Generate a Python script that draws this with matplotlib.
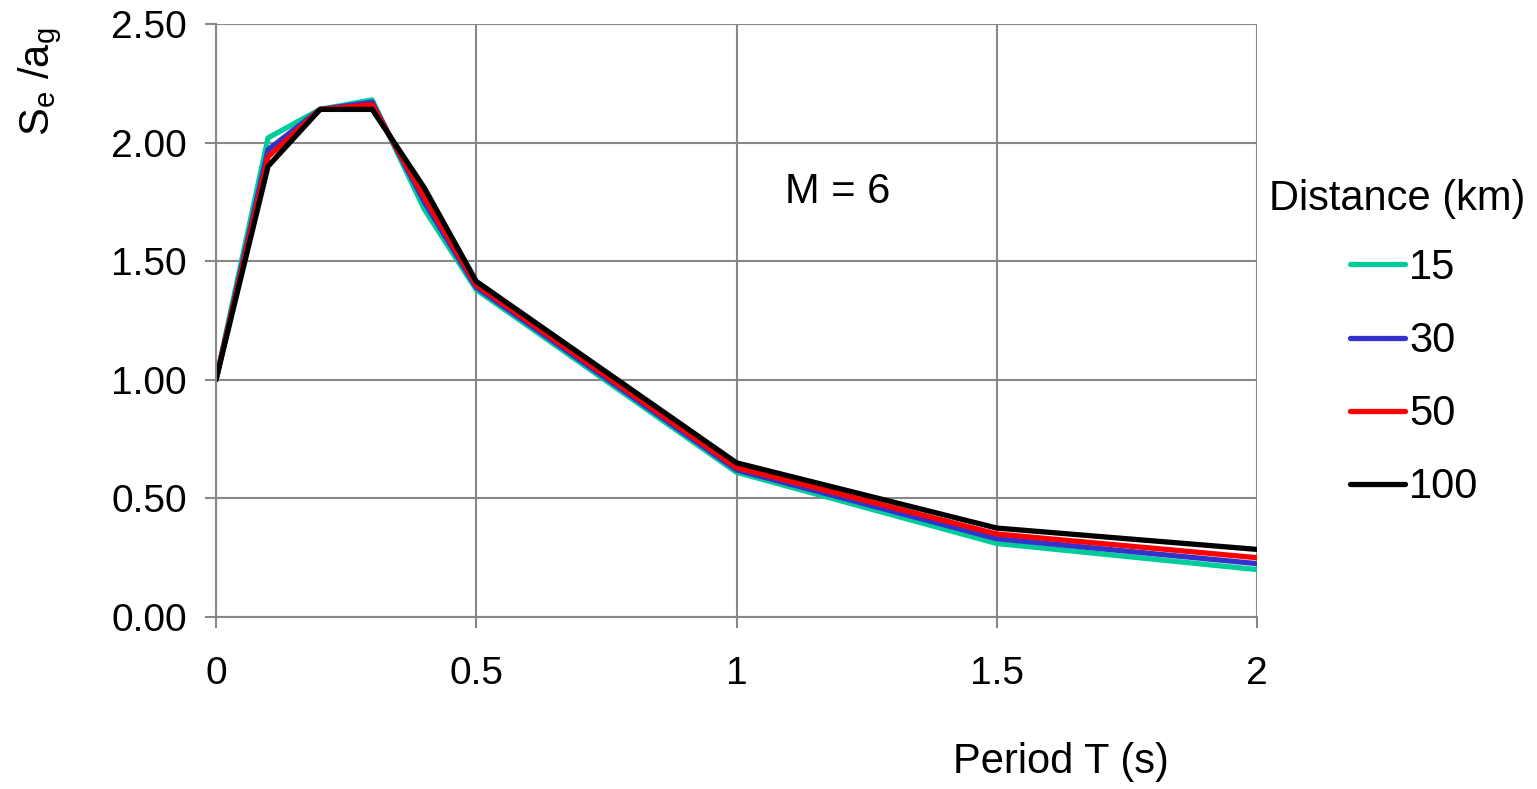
import matplotlib
matplotlib.use('Agg')
import matplotlib.pyplot as plt

# spectral ordinates Se/ag vs period, M = 6
periods = [0, 0.1, 0.2, 0.3, 0.4, 0.5, 1.0, 1.5, 2.0]
se_15 = [1.00, 2.02, 2.14, 2.18, 1.72, 1.38, 0.61, 0.31, 0.20]
se_30 = [1.00, 1.97, 2.14, 2.17, 1.75, 1.39, 0.62, 0.33, 0.225]
se_50 = [1.00, 1.94, 2.14, 2.16, 1.77, 1.40, 0.63, 0.35, 0.25]
se_100 = [1.00, 1.90, 2.14, 2.14, 1.81, 1.415, 0.65, 0.375, 0.285]
distances = ['15', '30', '50', '100']
colors = ['#00CC99', '#3333CC', '#FF0000', '#000000']

plt.rcParams['font.family'] = ['Liberation Sans', 'DejaVu Sans']
plt.rcParams['mathtext.fontset'] = 'custom'
plt.rcParams['mathtext.rm'] = 'Liberation Sans'

fig = plt.figure(figsize=(15.37, 7.89), dpi=100)
ax = fig.add_axes([216 / 1537, 1 - 617 / 789, (1257 - 216) / 1537, (617 - 24) / 789])

for vals, lab, c in zip([se_15, se_30, se_50, se_100], distances, colors):
    ax.plot(periods, vals, color=c, lw=3.8, label=lab, solid_capstyle='round')

ax.set_xlim(0, 2)
ax.set_ylim(0, 2.5)
ax.set_xticks([0, 0.5, 1, 1.5, 2])
ax.set_xticklabels(['0', '0.5', '1', '1.5', '2'])
ax.set_yticks([0, 0.5, 1, 1.5, 2, 2.5])
ax.set_yticklabels(['%.2f' % v for v in [0, 0.5, 1, 1.5, 2, 2.5]])
ax.grid(True, color='#888888', lw=1.5)
ax.set_axisbelow(True)
for s in ['top', 'right']:
    ax.spines[s].set_visible(False)
for s in ['left', 'bottom']:
    ax.spines[s].set_color('#888888')
    ax.spines[s].set_linewidth(1.5)
ax.tick_params(axis='both', colors='#888888', width=1.5, length=8, labelcolor='black', labelsize=28)
ax.tick_params(axis='x', pad=20)
ax.tick_params(axis='y', pad=13)

ax.text(1.195, 1.79, 'M = 6', fontsize=30, ha='center', va='center')

fig.text(40 / 1537, 1 - 82 / 789, r'S$_\mathregular{e}$ /a$_\mathregular{g}$', rotation=90,
         fontsize=30, ha='center', va='center')
fig.text(1061 / 1537, 1 - 762 / 789, 'Period T (s)', fontsize=30, ha='center', va='center')

# legend title drawn on its own so the entries can sit to the right
fig.text(1397 / 1537, 1 - 199 / 789, 'Distance (km)', fontsize=30, ha='center', va='center')
leg = fig.legend(loc='upper left', bbox_to_anchor=(1350 / 1537, 1 - 248 / 789),
                 frameon=False, fontsize=30, handlelength=1.32, borderaxespad=0,
                 handletextpad=0.1, labelspacing=0.795, borderpad=0)
for h in leg.get_lines():
    h.set_linewidth(3.8)

fig.savefig('out.png', dpi=100)
